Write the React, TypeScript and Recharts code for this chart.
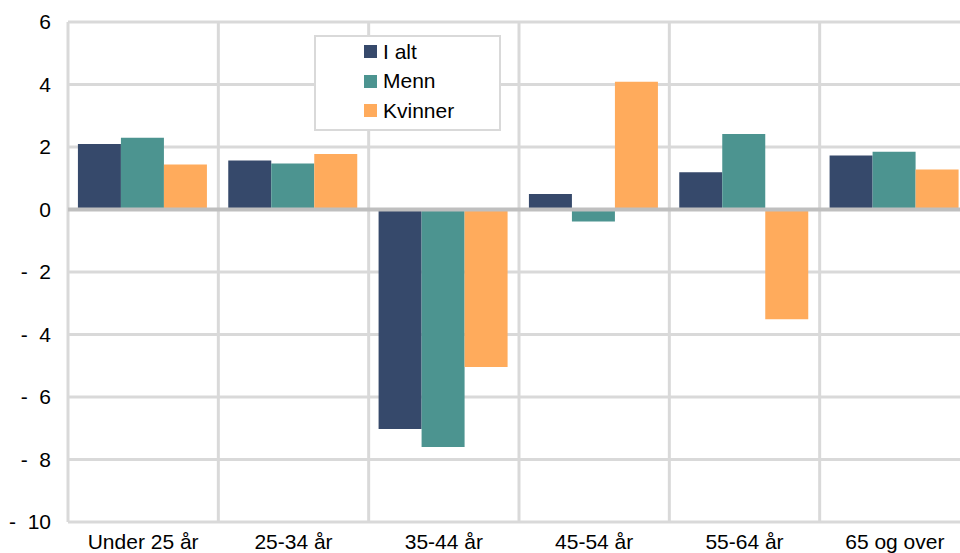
import { Bar, BarChart, CartesianGrid, ReferenceLine, XAxis, YAxis } from "recharts";

// Change by age group, percent.
const AGE_GROUPS = ["Under 25 år", "25-34 år", "35-44 år", "45-54 år", "55-64 år", "65 og over"];
const I_ALT = [2.1, 1.57, -7.02, 0.5, 1.19, 1.73];
const MENN = [2.3, 1.47, -7.6, -0.38, 2.42, 1.85];
const KVINNER = [1.44, 1.78, -5.04, 4.09, -3.51, 1.28];
const Y_TICKS = [-10, -8, -6, -4, -2, 0, 2, 4, 6];

const SERIES = [
  { key: "ialt", name: "I alt", color: "#36496b" },
  { key: "menn", name: "Menn", color: "#4c9490" },
  { key: "kvinner", name: "Kvinner", color: "#ffab5c" },
];

const data = AGE_GROUPS.map((label, i) => ({
  label,
  ialt: I_ALT[i],
  menn: MENN[i],
  kvinner: KVINNER[i],
}));

const FONT = "'Liberation Sans', Arial, sans-serif";
const GRID = "#d9d9d9";

// Excel-style negative numbers: "-  6"
const fmtY = (v: number) => (v < 0 ? `-\u00A0\u00A0${Math.abs(v)}` : `${v}`);

function LegendBox() {
  return (
    <div
      style={{
        position: "absolute",
        left: 314,
        top: 35,
        boxSizing: "border-box",
        width: 187,
        height: 96,
        border: `2px solid ${GRID}`,
        background: "#fff",
        padding: "0 0 0 48px",
        fontFamily: FONT,
        fontSize: 21,
        color: "#000",
      }}
    >
      {SERIES.map((s) => (
        <div key={s.key} style={{ display: "flex", alignItems: "center", height: 29.5 }}>
          <span style={{ display: "inline-block", width: 13, height: 13, background: s.color, marginRight: 6 }} />
          {s.name}
        </div>
      ))}
    </div>
  );
}

export default function App() {
  return (
    <div style={{ position: "fixed", left: 0, top: 0, width: 960, height: 553, overflow: "hidden", background: "#fff" }}>
      <BarChart
        width={970}
        height={553}
        data={data}
        margin={{ top: 22, right: 0, left: 0, bottom: 0 }}
        barCategoryGap="6.6%"
        barGap={0}
        style={{ fontFamily: FONT }}
      >
        <CartesianGrid
          stroke={GRID}
          strokeWidth={3}
          verticalCoordinatesGenerator={({ offset }: any) =>
            AGE_GROUPS.map((_, i) => offset.left + (i * offset.width) / AGE_GROUPS.length)
          }
        />
        <XAxis
          dataKey="label"
          height={31}
          tickSize={0}
          tickMargin={12}
          axisLine={false}
          tick={{ fill: "#000", fontSize: 21 }}
          interval={0}
        />
        <YAxis
          width={68}
          domain={[-10, 6]}
          ticks={Y_TICKS}
          tickFormatter={fmtY}
          tickSize={0}
          tickMargin={17}
          axisLine={false}
          tick={{ fill: "#000", fontSize: 21 }}
          allowDataOverflow
        />
        {SERIES.map((s) => (
          <Bar key={s.key} dataKey={s.key} name={s.name} fill={s.color} isAnimationActive={false} />
        ))}
        <ReferenceLine y={0} stroke="#bfbfbf" strokeWidth={4} />
      </BarChart>
      <LegendBox />
    </div>
  );
}
